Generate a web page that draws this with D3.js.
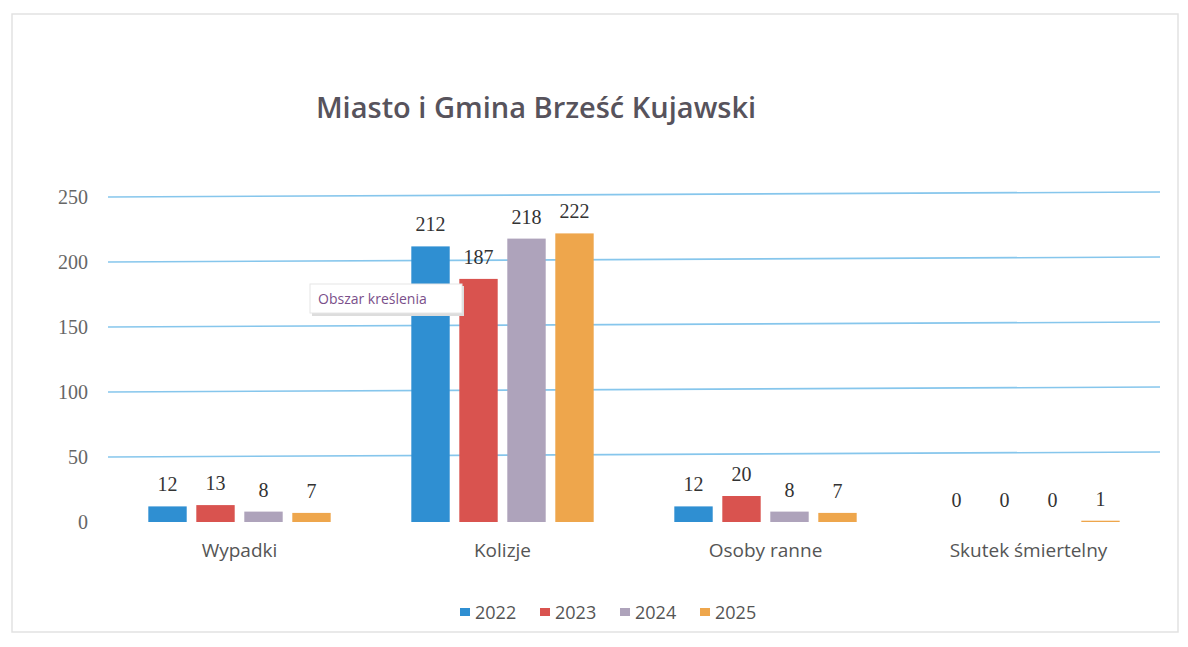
<!DOCTYPE html>
<html>
<head>
<meta charset="utf-8">
<script src="https://cdn.jsdelivr.net/npm/d3@7"></script>
<style>
  body { margin: 0; background: #fff; }
  svg { display: block; }
</style>
</head>
<body>
<script>
'use strict';

const categories = ["Wypadki", "Kolizje", "Osoby ranne", "Skutek śmiertelny"];
const years = ["2022", "2023", "2024", "2025"];
const values2022 = [12, 212, 12, 0];
const values2023 = [13, 187, 20, 0];
const values2024 = [8, 218, 8, 0];
const values2025 = [7, 222, 7, 1];
const yTicks = [0, 50, 100, 150, 200, 250];
const colors = ["#2f8fd2", "#d9534f", "#aea3bb", "#eea64c"];

const series = [values2022, values2023, values2024, values2025];
const W = 1188, H = 647;
const font = "'Open Sans', 'DejaVu Sans', sans-serif";

const svg = d3.select("body").append("svg")
    .attr("width", W)
    .attr("height", H);

// chart frame (scanned page edges)
svg.append("rect")
    .attr("x", 12).attr("y", 14)
    .attr("width", 1166).attr("height", 618)
    .attr("fill", "none")
    .attr("stroke", "#e2e2e2")
    .attr("stroke-width", 1.5);

const plot = {left: 108, right: 1160, top: 195, bottom: 522};

const x = d3.scaleBand()
    .domain(categories)
    .range([plot.left, plot.right]);

const xs = d3.scaleBand()
    .domain(years)
    .range([0, x.bandwidth()])
    .paddingInner(0.2)
    .paddingOuter(0.84);

const y = d3.scaleLinear()
    .domain([0, 250])
    .range([plot.bottom, plot.bottom - 250 * 1.3]);

// gridlines (slightly tilted like the scan)
svg.append("g")
    .selectAll("line")
    .data(yTicks.filter(d => d > 0))
    .join("line")
        .attr("x1", plot.left)
        .attr("x2", plot.right)
        .attr("y1", d => y(d))
        .attr("y2", d => y(d) - 5)
        .attr("stroke", "#86c6ec")
        .attr("stroke-width", 1.6);

// y axis labels
const yAxis = svg.append("g")
    .attr("transform", `translate(${plot.left - 20},0)`)
    .call(d3.axisLeft(y).tickValues(yTicks).tickSize(0).tickPadding(0));
yAxis.select(".domain").remove();
yAxis.selectAll("text")
    .attr("font-family", "'Liberation Serif', serif")
    .attr("font-size", 20)
    .attr("fill", "#666");

// bars
const groups = svg.append("g")
    .selectAll("g")
    .data(categories)
    .join("g")
        .attr("transform", d => `translate(${x(d)},0)`);

groups.selectAll("rect")
    .data((c, i) => years.map((yr, k) => ({yr, k, v: series[k][i]})))
    .join("rect")
        .attr("x", d => xs(d.yr))
        .attr("y", d => y(d.v))
        .attr("width", xs.bandwidth())
        .attr("height", d => Math.max(0, y(0) - y(d.v)))
        .attr("fill", d => colors[d.k]);

groups.selectAll("text.lbl")
    .data((c, i) => years.map((yr, k) => ({yr, k, v: series[k][i]})))
    .join("text")
        .attr("class", "lbl")
        .attr("x", d => xs(d.yr) + xs.bandwidth() / 2)
        .attr("y", d => y(d.v) - 15)
        .attr("text-anchor", "middle")
        .attr("font-family", "'Liberation Serif', serif")
        .attr("font-size", 20)
        .attr("fill", "#333")
        .text(d => d.v);

// category labels
svg.append("g")
    .selectAll("text")
    .data(categories)
    .join("text")
        .attr("x", d => x(d) + x.bandwidth() / 2)
        .attr("y", 557)
        .attr("text-anchor", "middle")
        .attr("font-family", font)
        .attr("font-size", 19)
        .attr("fill", "#555")
        .text(d => d);

// title
svg.append("text")
    .attr("x", 536)
    .attr("y", 118)
    .attr("text-anchor", "middle")
    .attr("font-family", font)
    .attr("font-weight", 600)
    .attr("font-size", 29)
    .attr("fill", "#57535c")
    .text("Miasto i Gmina Brześć Kujawski");

// legend
const legend = svg.append("g")
    .selectAll("g")
    .data(years)
    .join("g")
        .attr("transform", (d, i) => `translate(${460 + i * 80},613)`);
legend.append("rect")
    .attr("x", 0).attr("y", -5)
    .attr("width", 10).attr("height", 8)
    .attr("fill", (d, i) => colors[i]);
legend.append("text")
    .attr("x", 15).attr("y", 6)
    .attr("font-family", font)
    .attr("font-size", 18)
    .attr("fill", "#555")
    .text(d => d);

// excel tooltip "Obszar kreślenia"
const tip = svg.append("g").attr("transform", "translate(310,284)");
tip.append("rect")
    .attr("x", 2).attr("y", 2)
    .attr("width", 152).attr("height", 30)
    .attr("fill", "#ddd");
tip.append("rect")
    .attr("width", 152).attr("height", 29)
    .attr("fill", "#fff")
    .attr("stroke", "#e6e6e6");
tip.append("text")
    .attr("x", 8).attr("y", 20)
    .attr("font-family", font)
    .attr("font-size", 14)
    .attr("fill", "#7a4f8a")
    .text("Obszar kreślenia");
</script>
</body>
</html>
